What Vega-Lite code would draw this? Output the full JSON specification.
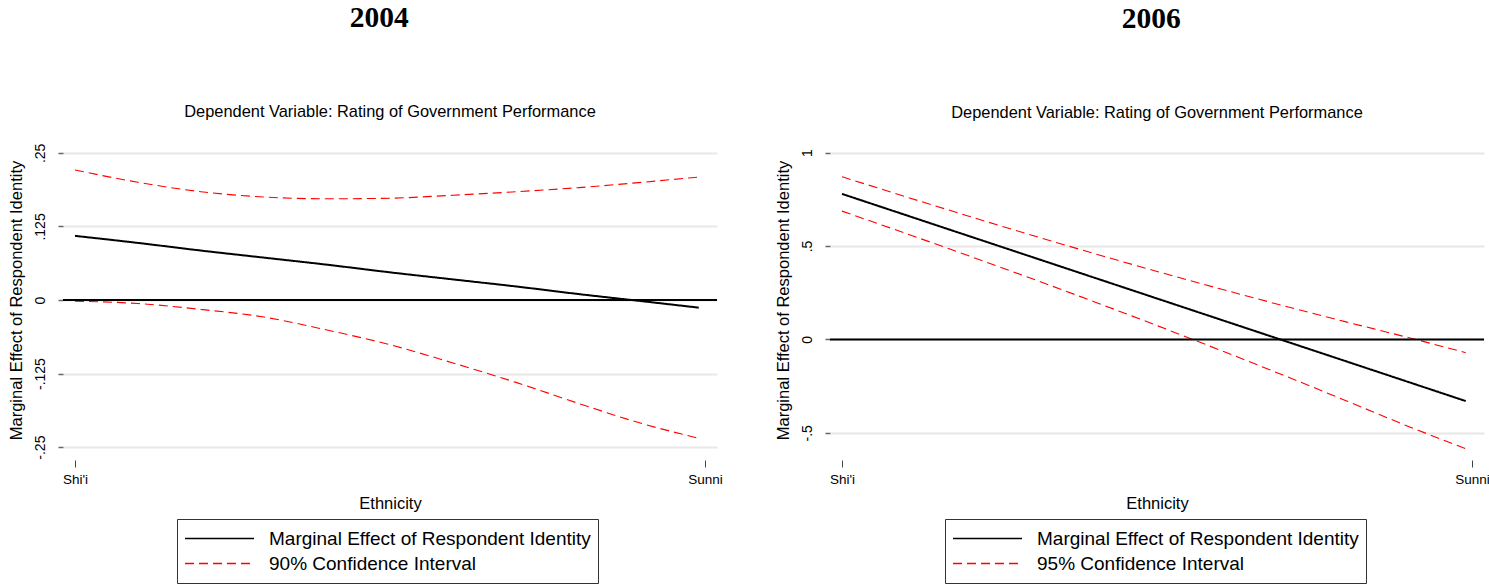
{
  "$schema": "https://vega.github.io/schema/vega-lite/v6.json",
  "background": "white",
  "padding": {"left": 8, "top": 3, "right": 0, "bottom": 0},
  "config": {
    "font": "Liberation Sans",
    "view": {"stroke": null},
    "axis": {"labelColor": "black", "titleColor": "black", "titleFontWeight": "normal", "labelFont": "Liberation Sans", "titleFont": "Liberation Sans"},
    "title": {"color": "black"},
    "legend": {"labelColor": "black"}
  },
  "datasets": {
    "d2004": [
      {"x": 0, "series": "Marginal Effect of Respondent Identity", "bound": "est", "value": 0.109},
      {"x": 0.1, "series": "Marginal Effect of Respondent Identity", "bound": "est", "value": 0.097},
      {"x": 0.2, "series": "Marginal Effect of Respondent Identity", "bound": "est", "value": 0.084},
      {"x": 0.3, "series": "Marginal Effect of Respondent Identity", "bound": "est", "value": 0.072},
      {"x": 0.4, "series": "Marginal Effect of Respondent Identity", "bound": "est", "value": 0.060},
      {"x": 0.5, "series": "Marginal Effect of Respondent Identity", "bound": "est", "value": 0.047},
      {"x": 0.6, "series": "Marginal Effect of Respondent Identity", "bound": "est", "value": 0.035},
      {"x": 0.7, "series": "Marginal Effect of Respondent Identity", "bound": "est", "value": 0.023},
      {"x": 0.8, "series": "Marginal Effect of Respondent Identity", "bound": "est", "value": 0.010},
      {"x": 0.9, "series": "Marginal Effect of Respondent Identity", "bound": "est", "value": -0.002},
      {"x": 0.99, "series": "Marginal Effect of Respondent Identity", "bound": "est", "value": -0.013},
      {"x": 0, "series": "90% Confidence Interval", "bound": "upper", "value": 0.221},
      {"x": 0.1, "series": "90% Confidence Interval", "bound": "upper", "value": 0.200},
      {"x": 0.2, "series": "90% Confidence Interval", "bound": "upper", "value": 0.184},
      {"x": 0.3, "series": "90% Confidence Interval", "bound": "upper", "value": 0.175},
      {"x": 0.4, "series": "90% Confidence Interval", "bound": "upper", "value": 0.172},
      {"x": 0.5, "series": "90% Confidence Interval", "bound": "upper", "value": 0.173},
      {"x": 0.6, "series": "90% Confidence Interval", "bound": "upper", "value": 0.178},
      {"x": 0.7, "series": "90% Confidence Interval", "bound": "upper", "value": 0.184},
      {"x": 0.8, "series": "90% Confidence Interval", "bound": "upper", "value": 0.191},
      {"x": 0.9, "series": "90% Confidence Interval", "bound": "upper", "value": 0.200},
      {"x": 0.99, "series": "90% Confidence Interval", "bound": "upper", "value": 0.209},
      {"x": 0, "series": "90% Confidence Interval", "bound": "lower", "value": -0.002},
      {"x": 0.1, "series": "90% Confidence Interval", "bound": "lower", "value": -0.006},
      {"x": 0.2, "series": "90% Confidence Interval", "bound": "lower", "value": -0.016},
      {"x": 0.3, "series": "90% Confidence Interval", "bound": "lower", "value": -0.029},
      {"x": 0.4, "series": "90% Confidence Interval", "bound": "lower", "value": -0.051},
      {"x": 0.5, "series": "90% Confidence Interval", "bound": "lower", "value": -0.076},
      {"x": 0.6, "series": "90% Confidence Interval", "bound": "lower", "value": -0.107},
      {"x": 0.7, "series": "90% Confidence Interval", "bound": "lower", "value": -0.140},
      {"x": 0.8, "series": "90% Confidence Interval", "bound": "lower", "value": -0.176},
      {"x": 0.9, "series": "90% Confidence Interval", "bound": "lower", "value": -0.210},
      {"x": 0.99, "series": "90% Confidence Interval", "bound": "lower", "value": -0.235}
    ],
    "d2006": [
      {"x": 0, "series": "Marginal Effect of Respondent Identity", "bound": "est", "value": 0.779},
      {"x": 0.1, "series": "Marginal Effect of Respondent Identity", "bound": "est", "value": 0.667},
      {"x": 0.2, "series": "Marginal Effect of Respondent Identity", "bound": "est", "value": 0.555},
      {"x": 0.3, "series": "Marginal Effect of Respondent Identity", "bound": "est", "value": 0.443},
      {"x": 0.4, "series": "Marginal Effect of Respondent Identity", "bound": "est", "value": 0.331},
      {"x": 0.5, "series": "Marginal Effect of Respondent Identity", "bound": "est", "value": 0.219},
      {"x": 0.6, "series": "Marginal Effect of Respondent Identity", "bound": "est", "value": 0.107},
      {"x": 0.7, "series": "Marginal Effect of Respondent Identity", "bound": "est", "value": -0.005},
      {"x": 0.8, "series": "Marginal Effect of Respondent Identity", "bound": "est", "value": -0.117},
      {"x": 0.9, "series": "Marginal Effect of Respondent Identity", "bound": "est", "value": -0.229},
      {"x": 0.99, "series": "Marginal Effect of Respondent Identity", "bound": "est", "value": -0.330},
      {"x": 0, "series": "95% Confidence Interval", "bound": "upper", "value": 0.871},
      {"x": 0.1, "series": "95% Confidence Interval", "bound": "upper", "value": 0.765},
      {"x": 0.2, "series": "95% Confidence Interval", "bound": "upper", "value": 0.661},
      {"x": 0.3, "series": "95% Confidence Interval", "bound": "upper", "value": 0.559},
      {"x": 0.4, "series": "95% Confidence Interval", "bound": "upper", "value": 0.460},
      {"x": 0.5, "series": "95% Confidence Interval", "bound": "upper", "value": 0.364},
      {"x": 0.6, "series": "95% Confidence Interval", "bound": "upper", "value": 0.271},
      {"x": 0.7, "series": "95% Confidence Interval", "bound": "upper", "value": 0.181},
      {"x": 0.8, "series": "95% Confidence Interval", "bound": "upper", "value": 0.094},
      {"x": 0.9, "series": "95% Confidence Interval", "bound": "upper", "value": 0.009},
      {"x": 0.99, "series": "95% Confidence Interval", "bound": "upper", "value": -0.071},
      {"x": 0, "series": "95% Confidence Interval", "bound": "lower", "value": 0.687},
      {"x": 0.1, "series": "95% Confidence Interval", "bound": "lower", "value": 0.569},
      {"x": 0.2, "series": "95% Confidence Interval", "bound": "lower", "value": 0.449},
      {"x": 0.3, "series": "95% Confidence Interval", "bound": "lower", "value": 0.327},
      {"x": 0.4, "series": "95% Confidence Interval", "bound": "lower", "value": 0.202},
      {"x": 0.5, "series": "95% Confidence Interval", "bound": "lower", "value": 0.074},
      {"x": 0.6, "series": "95% Confidence Interval", "bound": "lower", "value": -0.057},
      {"x": 0.7, "series": "95% Confidence Interval", "bound": "lower", "value": -0.191},
      {"x": 0.8, "series": "95% Confidence Interval", "bound": "lower", "value": -0.328},
      {"x": 0.9, "series": "95% Confidence Interval", "bound": "lower", "value": -0.467},
      {"x": 0.99, "series": "95% Confidence Interval", "bound": "lower", "value": -0.585}
    ]
  },
  "spacing": 52,
  "resolve": {
    "scale": {"color": "independent", "strokeDash": "independent", "x": "independent", "y": "independent"},
    "legend": {"color": "independent", "strokeDash": "independent"}
  },
  "hconcat": [
    {
      "title": {"text": "2004", "font": "Liberation Serif", "fontSize": 29.5, "fontWeight": "bold", "anchor": "middle", "offset": 70, "dx": 14},
      "vconcat": [
        {
          "width": 654,
          "height": 306,
          "title": {"text": "Dependent Variable: Rating of Government Performance", "font": "Liberation Sans", "fontSize": 16.4, "fontWeight": "normal", "anchor": "middle", "offset": 23},
          "layer": [
            {
              "data": {"name": "d2004"},
              "mark": {"type": "line", "interpolate": "monotone"},
              "encoding": {
                "x": {"field": "x", "type": "quantitative", "scale": {"domain": [-0.019, 1.019], "nice": false, "zero": false},
                  "axis": {"values": [0, 1], "labelExpr": "datum.value == 0 ? \"Shi'i\" : \"Sunni\"", "grid": false, "domain": false, "tickSize": 7, "tickColor": "#444", "tickWidth": 1, "offset": 7, "labelPadding": 5, "labelFontSize": 13.5, "title": "Ethnicity", "titleFontSize": 16.5, "titlePadding": 10}},
                "y": {"field": "value", "type": "quantitative", "scale": {"domain": [-0.26, 0.26], "nice": false, "zero": false},
                  "axis": {"values": [-0.25, -0.125, 0, 0.125, 0.25], "labelExpr": "datum.value == 0 ? '0' : replace(replace(format(datum.value, ''), '0.', '.'), '−', '-')", "labelAngle": -90, "labelAlign": "center", "labelBaseline": "bottom", "labelFontSize": 14, "labelPadding": 11, "tickSize": 5, "tickWidth": 1.5, "tickColor": "#666", "domain": false, "grid": true, "gridColor": "#e8e8e8", "gridWidth": 2, "title": "Marginal Effect of Respondent Identity", "titleFontSize": 16.5, "titlePadding": 9}},
                "color": {"field": "series", "type": "nominal",
                  "scale": {"domain": ["Marginal Effect of Respondent Identity", "90% Confidence Interval"], "range": ["black", "red"]},
                  "legend": {"title": null, "orient": "none", "legendX": 114, "legendY": 372, "direction": "vertical", "strokeColor": "#333", "padding": 7, "symbolType": "stroke", "symbolSize": 4761, "symbolStrokeWidth": 1.5, "labelFontSize": 19, "labelFont": "Liberation Sans", "labelOffset": 14, "clipHeight": 25, "rowPadding": 0, "labelLimit": 500}},
                "strokeDash": {"field": "series", "type": "nominal",
                  "scale": {"domain": ["Marginal Effect of Respondent Identity", "90% Confidence Interval"], "range": [[1, 0], [9, 5]]},
                  "legend": {"title": null, "orient": "none", "legendX": 114, "legendY": 372, "direction": "vertical", "strokeColor": "#333", "padding": 7, "symbolType": "stroke", "symbolSize": 4761, "symbolStrokeWidth": 1.5, "labelFontSize": 19, "labelFont": "Liberation Sans", "labelOffset": 14, "clipHeight": 25, "rowPadding": 0, "labelLimit": 500}},
                "detail": {"field": "bound", "type": "nominal"},
                "strokeWidth": {"condition": {"test": "datum.bound == 'est'", "value": 2}, "value": 1.1}
              }
            },
            {
              "data": {"values": [{"ref": 0}]},
              "mark": {"type": "rule", "color": "black", "strokeWidth": 2},
              "encoding": {"y": {"field": "ref", "type": "quantitative"}}
            }
          ]
        }
      ]
    },
    {
      "title": {"text": "2006", "font": "Liberation Serif", "fontSize": 29.5, "fontWeight": "bold", "anchor": "middle", "offset": 70, "dx": 19},
      "vconcat": [
        {
          "width": 654,
          "height": 306,
          "title": {"text": "Dependent Variable: Rating of Government Performance", "font": "Liberation Sans", "fontSize": 16.4, "fontWeight": "normal", "anchor": "middle", "offset": 26},
          "layer": [
            {
              "data": {"name": "d2006"},
              "mark": {"type": "line", "interpolate": "monotone"},
              "encoding": {
                "x": {"field": "x", "type": "quantitative", "scale": {"domain": [-0.019, 1.019], "nice": false, "zero": false},
                  "axis": {"values": [0, 1], "labelExpr": "datum.value == 0 ? \"Shi'i\" : \"Sunni\"", "grid": false, "domain": false, "tickSize": 7, "tickColor": "#444", "tickWidth": 1, "offset": 7, "labelPadding": 5, "labelFontSize": 13.5, "title": "Ethnicity", "titleFontSize": 16.5, "titlePadding": 10}},
                "y": {"field": "value", "type": "quantitative", "scale": {"domain": [-0.608, 1.03], "nice": false, "zero": false},
                  "axis": {"values": [-0.5, 0, 0.5, 1], "labelExpr": "datum.value == 0 ? '0' : replace(replace(format(datum.value, ''), '0.', '.'), '−', '-')", "labelAngle": -90, "labelAlign": "center", "labelBaseline": "bottom", "labelFontSize": 14, "labelPadding": 11, "tickSize": 5, "tickWidth": 1.5, "tickColor": "#666", "domain": false, "grid": true, "gridColor": "#e8e8e8", "gridWidth": 2, "title": "Marginal Effect of Respondent Identity", "titleFontSize": 16.5, "titlePadding": 9}},
                "color": {"field": "series", "type": "nominal",
                  "scale": {"domain": ["Marginal Effect of Respondent Identity", "95% Confidence Interval"], "range": ["black", "red"]},
                  "legend": {"title": null, "orient": "none", "legendX": 115, "legendY": 372, "direction": "vertical", "strokeColor": "#333", "padding": 7, "symbolType": "stroke", "symbolSize": 4761, "symbolStrokeWidth": 1.5, "labelFontSize": 19, "labelFont": "Liberation Sans", "labelOffset": 14, "clipHeight": 25, "rowPadding": 0, "labelLimit": 500}},
                "strokeDash": {"field": "series", "type": "nominal",
                  "scale": {"domain": ["Marginal Effect of Respondent Identity", "95% Confidence Interval"], "range": [[1, 0], [9, 5]]},
                  "legend": {"title": null, "orient": "none", "legendX": 115, "legendY": 372, "direction": "vertical", "strokeColor": "#333", "padding": 7, "symbolType": "stroke", "symbolSize": 4761, "symbolStrokeWidth": 1.5, "labelFontSize": 19, "labelFont": "Liberation Sans", "labelOffset": 14, "clipHeight": 25, "rowPadding": 0, "labelLimit": 500}},
                "detail": {"field": "bound", "type": "nominal"},
                "strokeWidth": {"condition": {"test": "datum.bound == 'est'", "value": 2}, "value": 1.1}
              }
            },
            {
              "data": {"values": [{"ref": 0}]},
              "mark": {"type": "rule", "color": "black", "strokeWidth": 2},
              "encoding": {"y": {"field": "ref", "type": "quantitative"}}
            }
          ]
        }
      ]
    }
  ]
}
